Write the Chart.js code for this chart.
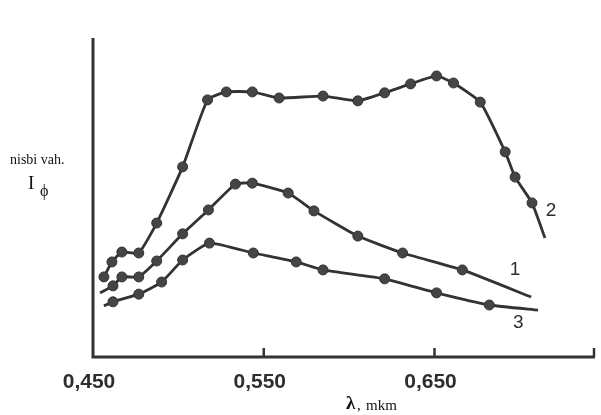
<!DOCTYPE html>
<html>
<head>
<meta charset="utf-8">
<script src="https://cdn.jsdelivr.net/npm/chart.js@4/dist/chart.umd.min.js"></script>
<style>
  html, body { margin: 0; padding: 0; background: #fff; }
  #wrap { width: 601px; height: 415px; position: relative; }
</style>
</head>
<body>
<div id="wrap"><canvas id="spectrum"></canvas></div>
<script>
// wavelength (mkm) and relative intensity (arbitrary units, axis 0..100)
const lambda1 = [0.4541, 0.4617, 0.4669, 0.4768, 0.4873, 0.5025, 0.5176, 0.5334, 0.5433, 0.5643, 0.5794, 0.6051, 0.6313, 0.6663, 0.7066];
const intensity1 = [20.1, 22.3, 25.1, 25.1, 30.1, 38.6, 46.1, 54.2, 54.5, 51.4, 45.8, 37.9, 32.6, 27.3, 18.8];

const lambda2 = [0.4564, 0.4611, 0.4669, 0.4768, 0.4873, 0.5025, 0.5171, 0.5281, 0.5433, 0.5590, 0.5847, 0.6051, 0.6208, 0.6360, 0.6512, 0.6611, 0.6768, 0.6914, 0.6972, 0.7071, 0.7147];
const intensity2 = [25.1, 29.8, 32.9, 32.6, 42.0, 59.6, 80.6, 83.1, 83.1, 81.2, 81.8, 80.3, 82.8, 85.6, 88.1, 85.9, 79.9, 64.3, 56.4, 48.3, 37.3];

const lambda3 = [0.4564, 0.4617, 0.4768, 0.4902, 0.5025, 0.5182, 0.5439, 0.5690, 0.5847, 0.6208, 0.6512, 0.6821, 0.7106];
const intensity3 = [16.0, 17.3, 19.7, 23.5, 30.4, 35.7, 32.6, 29.8, 27.3, 24.5, 20.1, 16.3, 14.7];

const xTickValues = [0.45, 0.55, 0.65];
const xTickLabels = ['0,450', '0,550', '0,650'];
const xMin = 0.45, xMax = 0.744;

const curveNames = ['1', '2', '3'];
const curveLabelX = [0.6972, 0.7182, 0.6990];
const curveLabelY = [27.3, 45.8, 10.7];

const ink = '#333';

function toPoints(xs, ys) {
  return xs.map((x, i) => ({ x: x, y: ys[i] }));
}

// line-only ends (no dot where the drawn curve just runs out)
function radii(n, hideFirst, hideLast) {
  const r = [];
  for (let i = 0; i < n; i++) r.push(5);
  if (hideFirst) r[0] = 0;
  if (hideLast) r[n - 1] = 0;
  return r;
}

function curve(xs, ys, hideFirst, hideLast) {
  return {
    data: toPoints(xs, ys),
    showLine: true,
    borderColor: ink,
    borderWidth: 2.8,
    tension: 0.15,
    pointRadius: radii(xs.length, hideFirst, hideLast),
    pointBackgroundColor: '#454545',
    pointBorderColor: '#333',
    pointBorderWidth: 1,
  };
}

// axes, ticks, labels and curve numbers
const decor = {
  id: 'decor',
  afterDraw(chart) {
    const c = chart.ctx;
    const xs = chart.scales.x, ys = chart.scales.y;
    const a = chart.chartArea;
    c.save();
    c.strokeStyle = '#333';
    c.lineWidth = 3;
    c.beginPath();
    c.moveTo(a.left, a.top);
    c.lineTo(a.left, a.bottom);
    c.lineTo(a.right, a.bottom);
    c.stroke();

    // ticks point up into the plot
    c.lineWidth = 2.5;
    const tickAt = xTickValues.slice(1).concat([xMax]);
    tickAt.forEach(v => {
      const px = Math.min(xs.getPixelForValue(v), a.right - 1);
      c.beginPath();
      c.moveTo(px, a.bottom);
      c.lineTo(px, a.bottom - 9);
      c.stroke();
    });

    c.fillStyle = '#2e2e2e';
    c.font = 'bold 21px "Liberation Sans", Arial, sans-serif';
    c.textAlign = 'center';
    c.textBaseline = 'middle';
    xTickValues.forEach((v, i) => {
      c.fillText(xTickLabels[i], xs.getPixelForValue(v) - 4, a.bottom + 25);
    });

    c.font = '19px "Liberation Sans", Arial, sans-serif';
    curveNames.forEach((n, i) => {
      c.fillText(n, xs.getPixelForValue(curveLabelX[i]), ys.getPixelForValue(curveLabelY[i]));
    });

    // axis captions
    c.fillStyle = '#111';
    c.textAlign = 'left';
    c.font = 'bold 19px "Liberation Serif", serif';
    c.fillText('\u03bb', 346, 404);
    c.font = '15px "Liberation Serif", serif';
    c.fillText(',', 357, 406);
    c.fillText('mkm', 366, 406);

    c.font = '14px "Liberation Serif", serif';
    c.fillText('nisbi vah.', 10, 160);
    c.font = '19px "Liberation Serif", serif';
    c.fillText('I', 28, 184);
    c.font = '16px "Liberation Serif", serif';
    c.fillText('\u03d5', 40, 192);
    c.restore();
  }
};

new Chart(document.getElementById('spectrum').getContext('2d'), {
  type: 'scatter',
  data: {
    datasets: [
      curve(lambda1, intensity1, true, true),
      curve(lambda2, intensity2, false, true),
      curve(lambda3, intensity3, true, true),
    ]
  },
  options: {
    responsive: true,
    maintainAspectRatio: false,
    animation: false,
    layout: { padding: { left: 93, right: 4, top: 38, bottom: 58 } },
    plugins: {
      legend: { display: false },
      tooltip: { enabled: false },
    },
    scales: {
      x: { type: 'linear', display: false, min: xMin, max: xMax },
      y: { type: 'linear', display: false, min: 0, max: 100 },
    },
  },
  plugins: [decor],
});
</script>
</body>
</html>
